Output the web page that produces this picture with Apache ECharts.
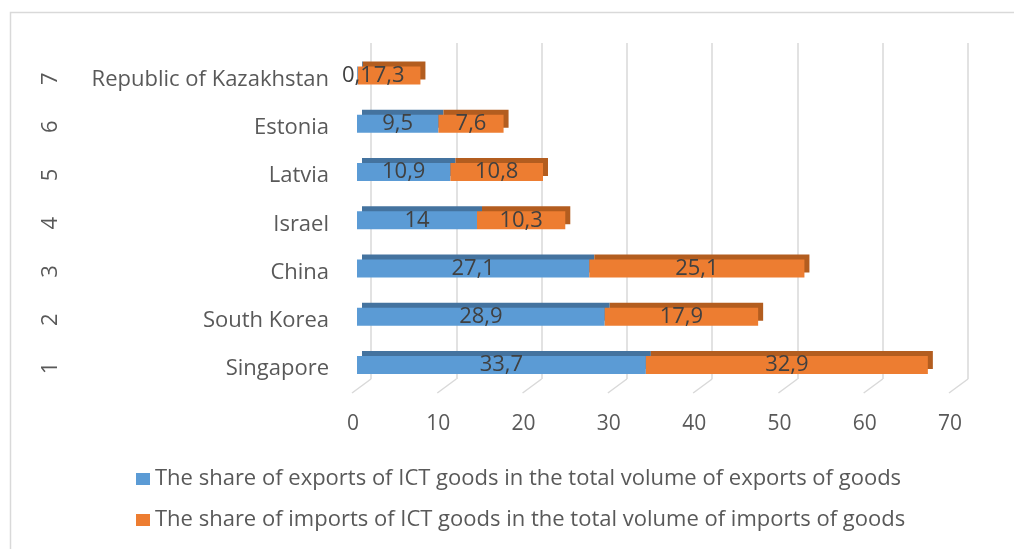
<!DOCTYPE html>
<html>
<head>
<meta charset="utf-8">
<style>
  html, body { margin: 0; padding: 0; background: #ffffff; }
  #chart { width: 1014px; height: 549px; }
</style>
<script src="https://cdn.jsdelivr.net/npm/echarts@6/dist/echarts.min.js"></script>
</head>
<body>
<div id="chart"></div>
<script>
// ---- data ----
const countries = ['Singapore', 'South Korea', 'China', 'Israel', 'Latvia', 'Estonia', 'Republic of Kazakhstan'];
const rowNumbers = ['1', '2', '3', '4', '5', '6', '7'];
const exportsShare = [33.7, 28.9, 27.1, 14, 10.9, 9.5, 0.1];
const importsShare = [32.9, 17.9, 25.1, 10.3, 10.8, 7.6, 7.3];
const seriesNames = [
  'The share of exports of ICT goods in the total volume of exports of goods',
  'The share of imports of ICT goods in the total volume of imports of goods'
];
const xTicks = [0, 10, 20, 30, 40, 50, 60, 70];

const FONT = 'Open Sans';
const FS = 22;
const TXT = '#595959';
const GRIDC = '#d9d9d9';
const fmt = v => String(v).replace('.', ',');

const chart = echarts.init(document.getElementById('chart'), null, { renderer: 'canvas' });

chart.setOption({
  animation: false,
  backgroundColor: '#ffffff',
  graphic: [{
    type: 'rect',
    left: 8, top: 10,
    shape: { width: 1040, height: 560 },
    style: { fill: 'none', stroke: GRIDC, lineWidth: 1.5 },
    silent: true, z: -10
  }],
  legend: {
    orient: 'vertical',
    left: 131, top: 463,
    itemGap: 19,
    itemWidth: 14, itemHeight: 12,
    icon: 'rect',
    textStyle: { fontFamily: FONT, fontSize: FS, color: TXT },
    data: seriesNames
  },
  grid: [
    { left: 357, right: 57, top: 51.5, bottom: 160 },   // bars
    { left: 371, right: 46, top: 43, bottom: 170 },     // back wall
    { left: 353, right: 64, top: 43, bottom: 170 }      // x labels
  ],
  xAxis: [
    { gridIndex: 0, type: 'value', min: 0, max: 70, interval: 10, show: false },
    { gridIndex: 1, type: 'value', min: 0, max: 70, interval: 10,
      axisLine: { show: false }, axisTick: { show: false }, axisLabel: { show: false },
      splitLine: { show: true, lineStyle: { color: GRIDC, width: 1.5 } } },
    { gridIndex: 2, type: 'value', min: 0, max: 70, interval: 10,
      axisLine: { show: false }, axisTick: { show: false }, splitLine: { show: false },
      axisLabel: { margin: 35, fontFamily: FONT, fontSize: FS - 1, color: TXT } }
  ],
  yAxis: [
    { gridIndex: 0, type: 'category', data: countries,
      axisLine: { show: false }, axisTick: { show: false },
      axisLabel: { margin: 28, formatter: v => '{n|' + v + '}',
                   rich: { n: { padding: [8, 0, 0, 0], fontFamily: FONT, fontSize: FS, color: TXT } },
                   fontFamily: FONT, fontSize: FS, color: TXT } },
    { gridIndex: 0, type: 'category', data: rowNumbers, position: 'left',
      axisLine: { show: false }, axisTick: { show: false },
      axisLabel: { margin: 306, rotate: 90, align: 'center', verticalAlign: 'middle',
                   padding: [0, 6, 0, 0],
                   fontFamily: FONT, fontSize: FS, color: TXT } },
    { gridIndex: 1, type: 'value', min: 0, max: 1, show: false },
    { gridIndex: 2, type: 'value', min: 0, max: 1, show: false }
  ],
  series: [
    {
      type: 'custom', xAxisIndex: 1, yAxisIndex: 2, silent: true, z: 0,
      data: xTicks.map(v => [v, 0]),
      renderItem: (params, api) => {
        const p = api.coord([api.value(0), 0]);
        return {
          type: 'line',
          shape: { x1: p[0], y1: p[1], x2: p[0] - 19, y2: p[1] + 14 },
          style: { stroke: GRIDC, lineWidth: 1.5 }
        };
      }
    },
    {
      name: seriesNames[0], type: 'bar', stack: 'total',
      xAxisIndex: 0, yAxisIndex: 0, barWidth: 18, z: 2,
      data: exportsShare,
      itemStyle: { color: '#5B9BD5', shadowColor: '#44739f', shadowOffsetX: 5, shadowOffsetY: -5, shadowBlur: 0 },
      label: { show: true, position: 'inside', formatter: p => fmt(p.value),
               fontFamily: FONT, fontSize: FS, color: '#404040' }
    },
    {
      name: seriesNames[1], type: 'bar', stack: 'total',
      xAxisIndex: 0, yAxisIndex: 0, barWidth: 18, z: 2,
      data: importsShare,
      itemStyle: { color: '#ED7D31', shadowColor: '#b35d1f', shadowOffsetX: 5, shadowOffsetY: -5, shadowBlur: 0 },
      label: { show: true, position: 'inside', formatter: p => fmt(p.value),
               fontFamily: FONT, fontSize: FS, color: '#404040' }
    }
  ]
});
</script>
</body>
</html>
